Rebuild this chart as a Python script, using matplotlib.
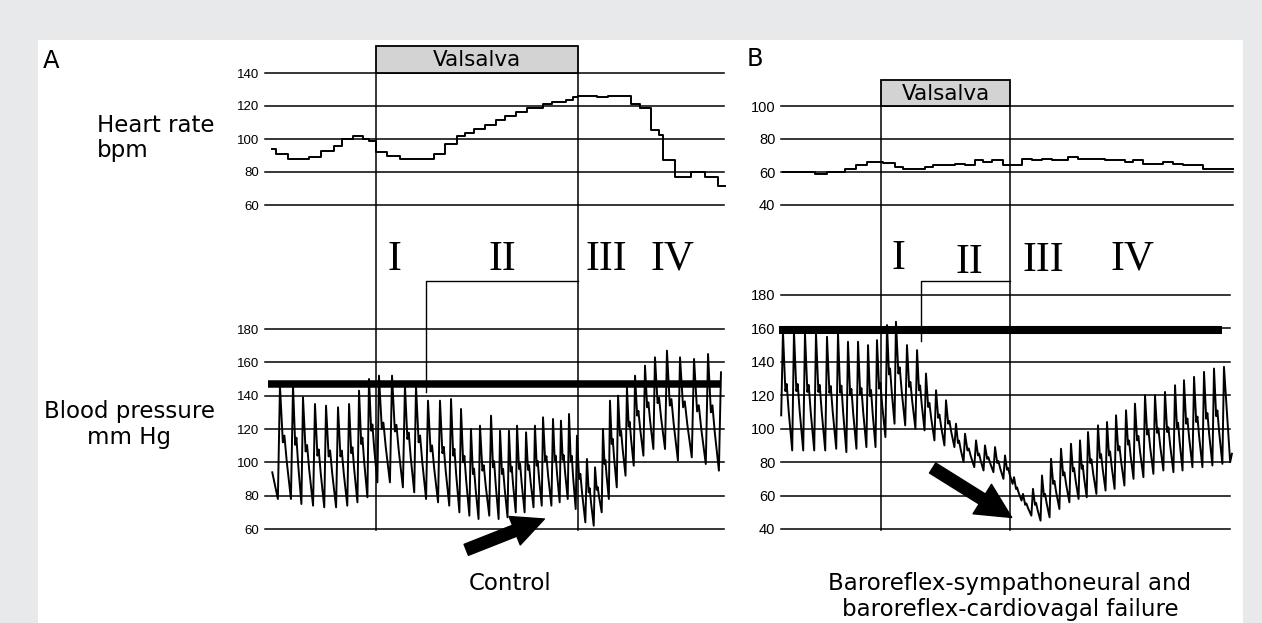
import matplotlib
matplotlib.use("Agg")
import matplotlib.pyplot as plt
import matplotlib.transforms as mtransforms
from matplotlib.patches import Rectangle
from matplotlib.lines import Line2D

# ---------------- data (time in s, Valsalva from 0 to 15 s) ----------------
# Panel A (control) heart rate, step trace: start time of each step and its value
hr_a_t = [-7.7, -7.4, -6.5, -5.0, -4.1, -3.1, -2.5, -1.7, -1.0, -0.5, 0.0, 0.8, 1.8, 4.3, 5.1,
          6.0, 6.6, 7.3, 8.1, 8.9, 9.6, 10.4, 11.2, 12.4, 13.1, 14.1, 14.6, 15.0, 16.4, 17.2,
          18.9, 19.6, 20.4, 21.0, 21.3, 22.2, 23.4, 24.4, 25.4, 25.9]
hr_a_v = [94, 91, 88, 89, 93, 96, 100, 102, 100, 99, 92, 90, 88, 91, 97,
          102, 103.5, 106, 108.5, 111.5, 114, 116.5, 119, 121, 122.5, 123.5, 125.5, 126, 125.5, 126,
          121.5, 118.5, 105.5, 102.5, 87, 77, 80, 77, 71.5, 71.5]

# Panel A blood pressure, per beat: time of systolic peak, systolic, diastolic before beat
bp_a_t = [-7.13, -6.16, -5.42, -4.53, -3.71, -2.82, -2.00, -1.26, -0.52, 0.22, 1.19, 2.15, 2.97,
          3.86, 4.75, 5.57, 6.31, 7.05, 7.72, 8.54, 9.21, 9.87, 10.47, 11.14, 11.80, 12.40, 13.14,
          13.73, 14.33, 14.92, 15.66, 16.26, 16.85, 17.37, 17.97, 18.63, 19.23, 19.97, 20.71,
          21.60, 22.57, 23.61, 24.65, 25.61]
bp_a_sys = [146, 146, 139, 135, 134, 133, 135, 143, 150, 152, 152, 146, 146,
            137, 137, 138, 132, 120, 122, 128, 119, 119, 122, 118, 122, 127, 126,
            125, 129, 116, 102, 97, 120, 137, 140, 145, 152, 158, 163,
            167, 163, 162, 165, 154]
bp_a_dia = [78, 78, 75, 74, 73, 73, 74, 76, 79, 88, 88, 85, 82,
            78, 76, 74, 70, 68, 66, 68, 66, 67, 70, 70, 73, 74, 74,
            76, 78, 72, 64, 62, 70, 78, 85, 92, 98, 104, 108,
            108, 101, 103, 99, 95]
bp_a_head_t = [-7.7]
bp_a_head_v = [94]

# Panel B (baroreflex failure) heart rate
hr_b_t = [-11.36, -7.67, -6.31, -4.19, -2.91, -1.66, 0.27, 1.63, 2.59, 5.12, 6.08, 8.6, 9.77,
          10.93, 11.9, 12.87, 14.22, 16.36, 17.52, 18.69, 19.85, 21.78, 22.94, 26.05, 28.37,
          29.34, 30.5, 32.83, 33.99, 35.15, 37.48, 40.97]
hr_b_v = [60, 59, 60, 62, 64, 66, 65.5, 63, 62, 63, 64, 65, 64,
          67, 66, 67, 64, 68, 67, 68, 67, 69, 68, 67, 66,
          67, 65, 66, 65, 64, 62, 62]

# Panel B blood pressure, per beat
bp_b_t = [-11.40, -10.12, -8.84, -7.56, -6.28, -5.00, -3.84, -2.67, -1.51, -0.47, 0.70, 1.74,
          3.02, 4.19, 5.23, 6.40, 7.56, 8.72, 9.77, 11.05, 12.09, 13.26, 14.42, 15.47, 16.51,
          17.67, 18.72, 19.77, 20.93, 22.09, 23.14, 24.07, 25.23, 26.28, 27.33, 28.49, 29.53,
          30.70, 31.86, 33.02, 34.19, 35.23, 36.40, 37.56, 38.72, 39.88]
bp_b_sys = [158, 158, 157, 157, 155, 157, 152, 152, 150, 153, 162, 164,
            150, 147, 133, 123, 117, 103, 97, 93, 90, 89, 84, 71, 61,
            64, 72, 82, 88, 91, 93, 98, 102, 104, 108, 111, 115,
            120, 120, 122, 126, 129, 131, 134, 136, 137]
bp_b_dia = [108, 87, 87, 87, 87, 88, 86, 88, 89, 89, 95, 103,
            102, 100, 99, 93, 90, 89, 80, 77, 75, 74, 70, 67, 57,
            48, 45, 47, 52, 56, 58, 59, 61, 63, 64, 66, 70,
            71, 73, 75, 74, 75, 77, 77, 78, 79]
bp_b_tail_t = [40.6, 40.8]
bp_b_tail_v = [80, 85]

hr_a_ticks = [60, 80, 100, 120, 140]
bp_a_ticks = [60, 80, 100, 120, 140, 160, 180]
hr_b_ticks = [40, 60, 80, 100]
bp_b_ticks = [40, 60, 80, 100, 120, 140, 160, 180]
bar_a = 147      # reference (thick) line, mm Hg
bar_b = 159
phases = ["I", "II", "III", "IV"]

# ---------------- figure ----------------
W, H = 1262, 623
fig = plt.figure(figsize=(W / 100, H / 100), dpi=100)
fig.patch.set_facecolor("#e8e9eb")
fig.add_artist(Rectangle((38 / W, 0), (1243 - 38) / W, 1 - 40 / H, transform=fig.transFigure,
                         facecolor="white", edgecolor="none", zorder=-5))

LBL = "DejaVu Sans"
TCK = "Liberation Sans"
SER = "Liberation Serif"


def fx(x):
    return x / W


def fy(y):
    return 1 - y / H


def add_ax(x0, x1, ytop, ybot, xlim, ylim, ticks, fs):
    ax = fig.add_axes([fx(x0), fy(ybot), (x1 - x0) / W, (ybot - ytop) / H])
    ax.set_xlim(xlim)
    ax.set_ylim(ylim)
    ax.patch.set_alpha(0)
    for s in ax.spines.values():
        s.set_visible(False)
    ax.set_xticks([])
    ax.set_yticks(ticks)
    ax.tick_params(axis="y", length=0, pad=4, labelsize=fs)
    for lab in ax.get_yticklabels():
        lab.set_fontfamily(TCK)
    for v in ticks:
        ax.axhline(v, color="black", lw=1.1, zorder=1, clip_on=False)
    return ax


def pulse_path(tp, sp, dp):
    ts, vs = [], []
    n = len(tp)
    for i in range(n):
        g_prev = tp[i] - tp[i - 1] if i > 0 else tp[1] - tp[0]
        ts += [tp[i] - 0.16 * g_prev, tp[i]]
        vs += [dp[i], sp[i]]
        if i < n - 1:
            g = tp[i + 1] - tp[i]
            nd = dp[i + 1]
            pp = sp[i] - nd
            ts += [tp[i] + 0.22 * g, tp[i] + 0.34 * g, tp[i] + 0.52 * g]
            vs += [nd + 0.50 * pp, nd + 0.56 * pp, nd + 0.33 * pp]
    return ts, vs


# scale: panel A 13.47 px/s with Valsalva start at x=376; panel B 8.6 px/s with start at x=881
ax_hr_a = add_ax(265, 724, 73, 205, ((265 - 376) / 13.47, (724 - 376) / 13.47), (60, 140), hr_a_ticks, 9.5)
ax_bp_a = add_ax(265, 724, 329, 529, ((265 - 376) / 13.47, (724 - 376) / 13.47), (60, 180), bp_a_ticks, 9.5)
ax_hr_b = add_ax(781, 1233, 106, 205, ((781 - 881) / 8.6, (1233 - 881) / 8.6), (40, 100), hr_b_ticks, 10.5)
ax_bp_b = add_ax(781, 1230, 295, 529, ((781 - 881) / 8.6, (1230 - 881) / 8.6), (40, 180), bp_b_ticks, 10.5)

# heart rate traces
ax_hr_a.step(hr_a_t, hr_a_v, where="post", color="black", lw=1.4, zorder=3, clip_on=False)
ax_hr_b.step(hr_b_t, hr_b_v, where="post", color="black", lw=1.4, zorder=3, clip_on=False)

# blood pressure traces
ta, va = pulse_path(bp_a_t, bp_a_sys, bp_a_dia)
ax_bp_a.plot(bp_a_head_t + ta, bp_a_head_v + va, color="black", lw=1.4, zorder=3, clip_on=False)
tb, vb = pulse_path(bp_b_t, bp_b_sys, bp_b_dia)
ax_bp_b.plot(tb + bp_b_tail_t, vb + bp_b_tail_v, color="black", lw=1.4, zorder=3, clip_on=False)

# thick reference bars
ax_bp_a.plot([(268 - 376) / 13.47, (720 - 376) / 13.47], [bar_a, bar_a], color="black", lw=5.4,
             solid_capstyle="butt", zorder=2, clip_on=False)
ax_bp_b.plot([(779 - 881) / 8.6, (1222 - 881) / 8.6], [bar_b, bar_b], color="black", lw=5.8,
             solid_capstyle="butt", zorder=2, clip_on=False)

# Valsalva boxes and vertical phase lines
for ax, ytop, ybot in [(ax_bp_a, 46, 73), (ax_bp_b, 80, 106)]:
    tr = mtransforms.blended_transform_factory(ax.transData, fig.transFigure)
    fig.add_artist(Rectangle((0, fy(ybot)), 15, (ybot - ytop) / H, transform=tr,
                             facecolor="#d3d3d3", edgecolor="black", lw=1.3, zorder=4))
    fig.text(7.5, fy((ytop + ybot) / 2 + 1), "Valsalva", transform=tr, ha="center", va="center",
             fontsize=15.5, family=LBL, zorder=5)
    for xv in (0, 15):
        fig.add_artist(Line2D([xv, xv], [fy(ybot), fy(530)], transform=tr, color="black", lw=1.1, zorder=4))

# brackets between phase I and II
ax_bp_a.plot([3.71, 3.71, 15], [142, 208.8, 208.8], color="black", lw=1.0, clip_on=False, zorder=4)
ax_bp_b.plot([4.65, 4.65, 15], [152.5, 188.4, 188.4], color="black", lw=1.0, clip_on=False, zorder=4)

# phase numerals
for lab, x, y in zip(phases, [394, 502, 606, 672], [270, 270, 270, 270]):
    fig.text(fx(x), fy(y), lab, ha="center", va="baseline", fontsize=30, family=SER)
for lab, x, y in zip(phases, [898, 969, 1043, 1132], [269, 273, 271, 270]):
    fig.text(fx(x), fy(y), lab, ha="center", va="baseline", fontsize=30, family=SER)

# arrows
ax_bp_a.annotate("", xy=(12.5, 66), xytext=(6.7, 47.5), annotation_clip=False,
                 arrowprops=dict(arrowstyle="simple,head_length=2.3,head_width=2.2,tail_width=0.85",
                                 mutation_scale=10, fc="black", ec="black", shrinkA=0, shrinkB=0))
ax_bp_b.annotate("", xy=(15.2, 46.9), xytext=(6.0, 76.5), annotation_clip=False,
                 arrowprops=dict(arrowstyle="simple,head_length=2.5,head_width=2.5,tail_width=0.85",
                                 mutation_scale=10, fc="black", ec="black", shrinkA=0, shrinkB=0))

# labels
fig.text(fx(43), fy(68), "A", ha="left", va="baseline", fontsize=17.5, family=LBL)
fig.text(fx(747), fy(66), "B", ha="left", va="baseline", fontsize=17.5, family=LBL)
fig.text(fx(97), fy(132), "Heart rate", ha="left", va="baseline", fontsize=16.5, family=LBL)
fig.text(fx(97), fy(157), "bpm", ha="left", va="baseline", fontsize=16.5, family=LBL)
fig.text(fx(129), fy(418), "Blood pressure", ha="center", va="baseline", fontsize=16.5, family=LBL)
fig.text(fx(129), fy(444), "mm Hg", ha="center", va="baseline", fontsize=16.5, family=LBL)
fig.text(fx(510), fy(590), "Control", ha="center", va="baseline", fontsize=16.5, family=LBL)
fig.text(fx(1010), fy(590), "Baroreflex-sympathoneural and", ha="center", va="baseline", fontsize=16.5, family=LBL)
fig.text(fx(1010), fy(616), "baroreflex-cardiovagal failure", ha="center", va="baseline", fontsize=16.5, family=LBL)

fig.savefig("out.png", dpi=100, facecolor=fig.get_facecolor())
